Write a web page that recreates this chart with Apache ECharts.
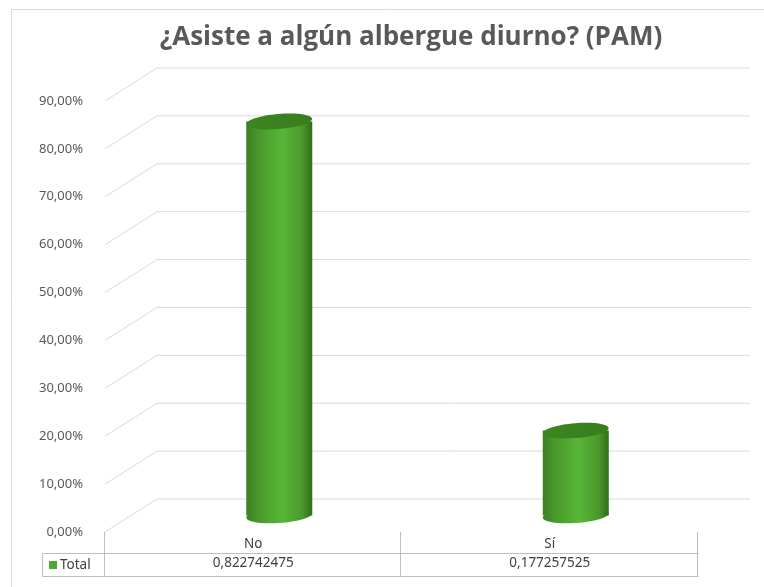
<!DOCTYPE html>
<html><head><meta charset="utf-8">
<script src="https://cdn.jsdelivr.net/npm/echarts@6/dist/echarts.min.js"></script>
<style>html,body{margin:0;padding:0;background:#fff}#c{width:764px;height:587px}</style>
</head><body><div id="c"></div>
<script>
const title = '¿Asiste a algún albergue diurno? (PAM)';
const categories = ['No', 'Sí'];
const totals = [0.822742475, 0.177257525];
const yTicks = [0, 0.1, 0.2, 0.3, 0.4, 0.5, 0.6, 0.7, 0.8, 0.9];
const seriesName = 'Total';

const DX = 52, DY = -33;       // 3D depth offset (back wall)
const BX = DX / 2, BY = DY / 2; // bar sits at mid depth
const R = 33, RY = 7.5;

function fmtPct(v) { return (v * 100).toFixed(2).replace('.', ',') + '%'; }
function fmtNum(v) { return String(v).replace('.', ','); }

const chart = echarts.init(document.getElementById('c'), null, {renderer: 'canvas'});
const bodyGrad = new echarts.graphic.LinearGradient(0, 0, 1, 0, [
  {offset: 0, color: '#3c8121'}, {offset: 0.2, color: '#4a9a2c'},
  {offset: 0.55, color: '#58b637'}, {offset: 0.85, color: '#49982b'},
  {offset: 1, color: '#316d19'}]);
const topGrad = new echarts.graphic.LinearGradient(0, 0, 1, 0, [
  {offset: 0, color: '#3c8621'}, {offset: 1, color: '#377d1d'}]);

chart.setOption({
  animation: false,
  backgroundColor: '#ffffff',
  title: {text: title, left: 411, textAlign: 'center', top: 25, padding: 0,
    textStyle: {fontFamily: 'Open Sans', fontWeight: 'bold', fontSize: 26, color: '#595959'}},
  grid: {left: 105, right: 66, top: 101, bottom: 55},
  xAxis: [{
    type: 'category', data: categories, position: 'bottom',
    axisLine: {show: false}, axisTick: {show: false}, splitLine: {show: false},
    axisLabel: {margin: 5, fontFamily: 'Noto Sans', fontSize: 13.5, color: '#404040'}
  }, {
    type: 'category', data: categories, position: 'bottom',
    axisLine: {show: false}, axisTick: {show: false}, splitLine: {show: false},
    axisLabel: {margin: 24, fontFamily: 'Noto Sans', fontSize: 13.5, color: '#404040',
      formatter: (n, i) => fmtNum(totals[i])}
  }],
  yAxis: {
    type: 'value', min: 0, max: 0.9, interval: 0.1,
    axisLine: {show: false}, axisTick: {show: false}, splitLine: {show: false},
    axisLabel: {margin: 22, fontFamily: 'Noto Sans', fontSize: 13, color: '#595959',
      formatter: fmtPct, padding: [0, 0, 5, 0]}
  },
  series: [{
    type: 'custom', name: 'grid3d', z: 1, silent: true,
    data: yTicks.map(v => [0, v]),
    clip: false,
    renderItem: function (params, api) {
      const cs = params.coordSys;
      const p = api.coord([0, api.value(1)]);
      const x0 = cs.x, y = p[1];
      return {type: 'polyline', shape: {points: [[x0, y], [x0 + DX, y + DY], [cs.x + cs.width + DX, y + DY]]},
        style: {stroke: '#d9d9d9', lineWidth: 1, fill: null}};
    }
  }, {
    type: 'custom', name: seriesName, z: 3, clip: false,
    data: totals.map((v, i) => [i, v]),
    renderItem: function (params, api) {
      const base = api.coord([api.value(0), 0]);
      const top = api.coord([api.value(0), api.value(1)]);
      const cx = base[0] + BX, by = base[1] + BY, ty = top[1] + BY;
      return {type: 'group', children: [
        {type: 'ellipse', shape: {cx: cx, cy: by, rx: R, ry: RY}, rotation: 0.07, originX: cx, originY: by, style: {fill: bodyGrad}},
        {type: 'rect', shape: {x: cx - R, y: ty, width: 2 * R, height: by - ty}, style: {fill: bodyGrad}},
        {type: 'ellipse', shape: {cx: cx, cy: ty, rx: R, ry: RY}, rotation: 0.08, originX: cx, originY: ty,
          style: {fill: topGrad}}
      ]};
    }
  }],
  graphic: [
    {type: 'rect', shape: {x: 11.5, y: 9.5, width: 800, height: 700}, style: {fill: null, stroke: '#d9d9d9', lineWidth: 1}, z: 0, silent: true},
    {type: 'polyline', shape: {points: [[42.5, 553.5], [698.5, 553.5]]}, style: {stroke: '#bfbfbf', lineWidth: 1}},
    {type: 'polyline', shape: {points: [[42.5, 576.5], [698.5, 576.5]]}, style: {stroke: '#bfbfbf', lineWidth: 1}},
    {type: 'polyline', shape: {points: [[42.5, 553.5], [42.5, 576.5]]}, style: {stroke: '#bfbfbf', lineWidth: 1}},
    {type: 'polyline', shape: {points: [[104.5, 532], [104.5, 576.5]]}, style: {stroke: '#bfbfbf', lineWidth: 1}},
    {type: 'polyline', shape: {points: [[400.5, 532], [400.5, 576.5]]}, style: {stroke: '#bfbfbf', lineWidth: 1}},
    {type: 'polyline', shape: {points: [[697.5, 532], [697.5, 576.5]]}, style: {stroke: '#bfbfbf', lineWidth: 1}},
    {type: 'rect', shape: {x: 49, y: 561, width: 8, height: 8}, style: {fill: '#4ea72e'}},
    {type: 'text', x: 60, y: 565, style: {text: seriesName, fontFamily: 'Noto Sans', fontSize: 13.5, fill: '#404040', verticalAlign: 'middle'}}
  ]
});
</script></body></html>
